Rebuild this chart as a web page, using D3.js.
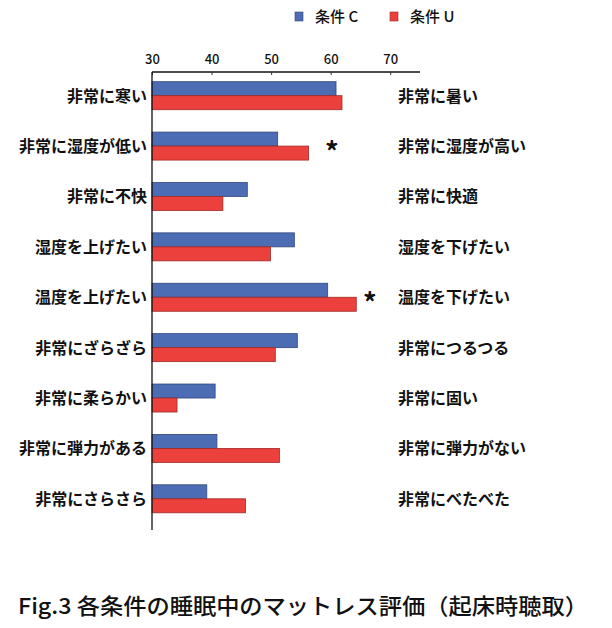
<!DOCTYPE html>
<html><head><meta charset="utf-8">
<script src="https://cdn.jsdelivr.net/npm/d3@7/dist/d3.min.js"></script>
<style>body{margin:0;background:#fff}svg{display:block}</style>
</head><body>
<svg id="c" width="612" height="628"></svg>
<script>
const leftLabels = ["非常に寒い","非常に湿度が低い","非常に不快","湿度を上げたい","温度を上げたい","非常にざらざら","非常に柔らかい","非常に弾力がある","非常にさらさら"];
const rightLabels = ["非常に暑い","非常に湿度が高い","非常に快適","湿度を下げたい","温度を下げたい","非常につるつる","非常に固い","非常に弾力がない","非常にべたべた"];
const seriesNames = ["条件 C","条件 U"];
const valuesC = [60.9, 51.1, 46.0, 53.9, 59.5, 54.4, 40.6, 40.9, 39.2];
const valuesU = [61.9, 56.3, 41.9, 49.9, 64.3, 50.7, 34.2, 51.4, 45.7];
// significance markers ("*"), placed at a value on the x scale
const significance = [null, 60.2, null, null, 66.6, null, null, null, null];
const tickValues = [30, 40, 50, 60, 70];

const svg = d3.select("#c");
const font = "'Noto Sans CJK JP', 'Noto Sans', sans-serif";
const colors = ["#4c6cb4", "#ec403c"];
const strokes = ["#33467a", "#a02a27"];

const x = d3.scaleLinear().domain([30, 75]).range([152, 420]);
const y = d3.scaleBand().domain(leftLabels).range([70.5, 524]);
const sub = d3.scaleBand().domain(seriesNames).range([0, 28]);
const series = [valuesC, valuesU];

// bars
const g = svg.append("g");
leftLabels.forEach((lab, i) => {
  const yc = y(lab) + y.bandwidth() / 2 - 14;
  seriesNames.forEach((s, k) => {
    g.append("rect")
      .attr("x", x(30))
      .attr("y", yc + sub(s))
      .attr("width", x(series[k][i]) - x(30))
      .attr("height", sub.bandwidth())
      .attr("fill", colors[k])
      .attr("stroke", strokes[k])
      .attr("stroke-width", 0.8);
  });
  if (significance[i] != null) {
    g.append("text")
      .attr("x", x(significance[i]))
      .attr("y", y(lab) + y.bandwidth() / 2 + 16)
      .attr("text-anchor", "middle")
      .attr("font-family", font).attr("font-size", 27).attr("font-weight", "bold")
      .attr("fill", "#111").text("*");
  }
});

// top axis
const axis = d3.axisTop(x).tickValues(tickValues).tickSize(-3).tickPadding(8).tickFormat(d3.format("d"));
const ax = svg.append("g").attr("transform", "translate(0,72)").call(axis);
ax.select(".domain").attr("stroke", "#111").attr("stroke-width", 1.3).attr("d", `M${x(30)},0H${x(75)}`);
ax.selectAll(".tick line").attr("stroke", "#333");
ax.selectAll(".tick text").attr("font-family", font).attr("font-size", 13).attr("fill", "#111").attr("font-weight", 500);

// left axis line
svg.append("line").attr("x1", x(30)).attr("x2", x(30)).attr("y1", 72).attr("y2", 530)
  .attr("stroke", "#111").attr("stroke-width", 1.3);

// labels
svg.append("g").selectAll("text").data(leftLabels).join("text")
  .attr("x", 147).attr("y", d => y(d) + y.bandwidth() / 2 + 6)
  .attr("text-anchor", "end").attr("font-family", font).attr("font-size", 16).attr("font-weight", "bold")
  .attr("fill", "#111").text(d => d);
svg.append("g").selectAll("text").data(rightLabels).join("text")
  .attr("x", 398).attr("y", (d, i) => y(leftLabels[i]) + y.bandwidth() / 2 + 6)
  .attr("text-anchor", "start").attr("font-family", font).attr("font-size", 16).attr("font-weight", "bold")
  .attr("fill", "#111").text(d => d);

// legend
const legX = [295, 390];
seriesNames.forEach((s, k) => {
  svg.append("rect").attr("x", legX[k]).attr("y", 12).attr("width", 8).attr("height", 9)
    .attr("fill", colors[k]).attr("stroke", strokes[k]).attr("stroke-width", 0.6);
  svg.append("text").attr("x", legX[k] + 20).attr("y", 22)
    .attr("font-family", font).attr("font-size", 15).attr("font-weight", 500).attr("fill", "#111").text(s);
});

// caption
svg.append("text").attr("x", 18).attr("y", 614)
  .attr("font-family", font).attr("font-size", 22).attr("font-weight", 500).attr("fill", "#111")
  .attr("textLength", 570).attr("lengthAdjust", "spacingAndGlyphs")
  .text("Fig.3 各条件の睡眠中のマットレス評価（起床時聴取）");
</script>
</body></html>
